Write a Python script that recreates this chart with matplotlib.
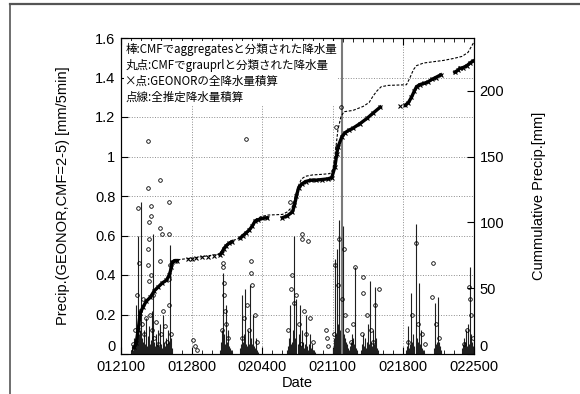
import numpy as np
import matplotlib
matplotlib.use("Agg")
import matplotlib.pyplot as plt
from matplotlib.lines import Line2D
from matplotlib.ticker import MultipleLocator

plt.rcParams['font.family'] = ['Liberation Sans', 'DejaVu Sans']

# x axis: days since 01/21 00:00 (labels are MMDDHH)
x_ticks = [0, 7, 14, 21, 28, 35]
x_labels = ["012100", "012800", "020400", "021100", "021800", "022500"]
y_ticks = [0, 0.2, 0.4, 0.6, 0.8, 1.0, 1.2, 1.4, 1.6]
y_labels = ["0", "0.2", "0.4", "0.6", "0.8", "1", "1.2", "1.4", "1.6"]
y2_ticks = [0, 50, 100, 150, 200]

# aggregates precip (bars), one list of 0.1-day samples per event
bar_starts = [1.0, 9.8, 11.8, 16.5, 21.0, 23.8, 28.3, 31.0, 33.8]
bar_heights = [
    [0.02, 0.04, 0.02, 0.08, 0.05, 0.25, 0.06, 0.60, 0.10, 0.12, 0.77, 0.08, 0.06, 0.12,
     0.05, 0.18, 0.04, 0.09, 0.14, 0.05, 0.07, 0.22, 0.61, 0.06, 0.04, 0.10, 0.05, 0.12,
     0.04, 0.15, 0.05, 0.03, 0.20, 0.06, 0.04, 0.08, 0.05, 0.12, 0.06, 0.55, 0.08, 0.03],
    [0.02, 0.06, 0.12, 0.41, 0.10, 0.05, 0.25, 0.06, 0.12, 0.04, 0.03, 0.02, 0.01],
    [0.03, 0.05, 0.30, 0.06, 0.10, 0.33, 0.05, 0.04, 0.12, 0.05, 0.35, 0.08, 0.05, 0.20,
     0.04, 0.03, 0.08, 0.02, 0.01],
    [0.02, 0.04, 0.08, 0.25, 0.05, 0.06, 0.12, 0.60, 0.08, 0.28, 0.05, 0.10, 0.25, 0.04,
     0.12, 0.06, 0.03, 0.05, 0.20, 0.04, 0.02, 0.05, 0.10, 0.03, 0.05, 0.02, 0.02, 0.01],
    [0.03, 0.08, 0.48, 0.10, 0.53, 0.15, 0.68, 0.12, 0.08, 1.90, 0.65, 0.10, 0.08, 0.06,
     0.05, 0.03, 0.02, 0.04, 0.06, 0.10, 0.08, 0.05, 0.44, 0.03, 0.02],
    [0.02, 0.05, 0.10, 0.04, 0.08, 0.03, 0.06, 0.15, 0.05, 0.37, 0.06, 0.04, 0.12, 0.05,
     0.34, 0.08, 0.03, 0.02],
    [0.02, 0.04, 0.14, 0.03, 0.05, 0.31, 0.06, 0.10, 0.04, 0.66, 0.08, 0.06, 0.36, 0.05,
     0.12, 0.03, 0.02, 0.01],
    [0.03, 0.26, 0.05, 0.06, 0.29, 0.06, 0.04, 0.02],
    [0.03, 0.05, 0.08, 0.06, 0.12, 0.04, 0.15, 0.05, 0.44, 0.10, 0.06, 0.04],
]

# graupel precip (circles)
circ_days = [1.7, 2.7, 3.0, 3.0, 2.8, 3.9, 4.1, 4.8, 4.8, 3.9, 2.7, 2.8, 2.7, 3.9, 1.8, 2.7,
             2.8, 3.0, 4.8, 4.8, 1.6, 1.9, 2.1, 2.3, 2.5, 2.9, 3.1, 3.3, 3.5, 3.7, 4.0, 4.2,
             4.4, 4.6, 1.4, 1.2, 3.2, 2.2, 4.9, 5.0,
             7.1, 7.3, 7.5,
             10.1, 10.1, 10.2, 10.2, 10.3, 10.4, 10.6, 10.0,
             12.4, 12.9, 12.9, 12.5, 13.0, 12.2, 12.7, 13.3, 13.5, 12.0,
             16.8, 17.9, 17.9, 18.5, 17.0, 16.9, 17.4, 17.2, 17.6, 18.1, 18.3, 18.7, 16.6,
             17.8, 19.0,
             20.3, 20.4, 20.5,
             21.8, 21.3, 21.4, 21.6, 22.1, 21.2, 21.5, 21.9, 22.2, 22.4, 22.8, 23.2, 23.0,
             21.1,
             24.0, 24.0, 25.6, 24.4, 24.8, 25.2, 25.0, 23.9,
             29.2, 30.9, 30.8, 28.9, 29.4, 29.8, 28.5, 30.1, 31.2, 31.5,
             34.5, 34.6, 34.7, 34.3, 34.9, 34.0]
circ_vals = [0.74, 0.84, 0.75, 0.70, 0.67, 0.64, 0.61, 0.77, 0.61, 0.47, 0.53, 0.58, 1.08,
             0.88, 0.46, 0.45, 0.37, 0.40, 0.38, 0.25, 0.30, 0.22, 0.15, 0.10, 0.18, 0.20,
             0.12, 0.08, 0.16, 0.05, 0.10, 0.22, 0.14, 0.06, 0.12, 0.05, 0.30, 0.28, 0.45,
             0.10,
             0.07, 0.04, 0.02,
             0.46, 0.44, 0.36, 0.30, 0.22, 0.15, 0.08, 0.12,
             1.09, 0.47, 0.41, 0.25, 0.35, 0.18, 0.12, 0.20, 0.06, 0.08,
             0.77, 0.61, 0.58, 0.57, 0.40, 0.33, 0.30, 0.26, 0.15, 0.22, 0.10, 0.18, 0.12,
             0.05, 0.06,
             0.12, 0.08, 0.04,
             1.25, 1.15, 1.05, 0.58, 0.53, 0.45, 0.35, 0.28, 0.20, 0.12, 0.06, 0.44, 0.15,
             0.10,
             0.39, 0.31, 0.33, 0.20, 0.12, 0.25, 0.06, 0.10,
             0.56, 0.46, 0.29, 0.20, 0.15, 0.10, 0.06, 0.05, 0.15, 0.08,
             0.34, 0.28, 0.20, 0.12, 0.08, 0.05]

# GEONOR cumulative precip [mm] (nan = gap in record)
geo_days = [1.3, 1.5, 1.7, 1.9, 2.2, 2.5, 2.9, 3.3, 3.7, 4.1, 4.5, 4.8, 5.0, 5.1, 5.35, 5.55,
            np.nan, 6.6, np.nan, 7.0, np.nan, 7.4, np.nan, 8.0, np.nan, 8.6, np.nan, 9.2,
            np.nan, 9.8, 10.0, 10.2, 10.4, 10.7, 11.0,
            np.nan, 11.8, 12.1, 12.4, 12.7, 13.0, 13.3, 13.6, 14.0, 14.5,
            np.nan, 16.0, 16.5, 17.0, 17.2, 17.4, 17.6, 17.9, 18.3, 18.8, 19.3, 19.9, 20.5,
            20.9, 21.2, 21.4, 21.5, 21.9, 22.2, 22.6, 23.0, 23.7, 24.4, 25.0, 25.7,
            np.nan, 27.7, np.nan, 28.2, 28.5, 28.8, 29.1, 29.3, 29.6, 30.0, 30.4, 30.8,
            31.2, 31.7,
            np.nan, 33.1, 33.4, 33.6, np.nan, 33.9, 34.3, 34.6, 34.9]
geo_vals = [5, 8, 18, 31, 36, 40, 43, 48, 51, 54, 56, 60, 66, 70, 71, 71,
            np.nan, 72, np.nan, 72.5, np.nan, 73, np.nan, 73.5, np.nan, 74, np.nan, 74.5,
            np.nan, 75.5, 77, 80, 82, 84, 85.3,
            np.nan, 88, 90, 92, 94, 97, 101, 102, 103, 103.5,
            np.nan, 103.5, 105, 108, 113, 120, 126, 129, 131, 132, 132, 132.5, 133,
            134, 142, 152, 157, 165, 168, 170, 171.5, 175, 179, 183, 187.5,
            np.nan, 188, np.nan, 189, 191, 195, 200, 203, 204.5, 205.5, 206.5, 208.5,
            210, 212,
            np.nan, 214, 215.5, 217, np.nan, 217.5, 219, 221, 222.5]

# estimated total cumulative precip [mm]
tot_days = [1.1, 1.3, 1.5, 1.7, 1.9, 2.2, 2.6, 2.9, 3.3, 3.7, 4.1, 4.5, 4.8, 5.0, 5.1, 5.5,
            7.2, 9.0, 9.8, 10.2, 10.6, 11.0, 11.8, 12.2, 12.6, 13.0, 13.3, 13.8, 14.5, 16.0,
            16.5, 17.0, 17.3, 17.6, 17.9, 18.3, 19.0, 20.0, 20.7, 21.0, 21.2, 21.4, 21.5,
            21.8, 22.1, 23.0, 24.0, 24.6, 25.0, 25.4, 25.8, 26.5, 28.3, 28.6, 29.0, 29.3,
            30.0, 31.0, 32.0, 33.0, 33.8, 34.4, 34.7, 35.0]
tot_vals = [2, 5, 10, 20, 31, 36, 41, 44, 48, 51, 54, 57, 62, 67, 70, 71.5,
            73, 75, 76, 81, 84.5, 86, 88, 91, 94, 98, 102, 104, 105.5, 106,
            108, 112, 120, 128, 133, 135, 136, 136.5, 137, 140, 150, 163, 170,
            180, 184, 185, 188, 191, 196, 200, 203, 204, 204.5, 209, 216, 219,
            221, 222, 223, 224.5, 226, 229, 233, 237]

bar_x = np.concatenate([s + 0.1 * np.arange(len(h)) for s, h in zip(bar_starts, bar_heights)])
bar_y = np.concatenate([np.array(h) for h in bar_heights])

fig = plt.figure(figsize=(5.8, 3.94), dpi=100)
ax = fig.add_axes([121 / 580, 1 - 354 / 394, 353 / 580, 316 / 394])

ymax = 1.6
inside = bar_y <= ymax
ax.vlines(bar_x[inside], 0, bar_y[inside], color='#1f1f1f', lw=0.8)
# off-scale impulses are clipped at the frame (drawn lighter, as in the original)
ax.vlines(bar_x[~inside], 0, bar_y[~inside], color='#7a7a7a', lw=1.5)
ax.plot(circ_days, circ_vals, 'o', ms=2.6, mfc='none', mec='k', mew=0.6)

ax.set_xlim(0, 35)
ax.set_ylim(0, ymax)
ax.set_xticks(x_ticks)
ax.set_xticklabels(x_labels)
ax.xaxis.set_minor_locator(MultipleLocator(1))
ax.set_yticks(y_ticks)
ax.set_yticklabels(y_labels)
ax.tick_params(direction='in', which='both', top=True, labelsize=10.5, pad=4)
ax.tick_params(which='major', length=5)
ax.tick_params(which='minor', length=3)
ax.grid(True, which='major', ls=':', color='#8c8c8c', lw=0.7)
ax.set_xlabel("Date", fontsize=10.5, labelpad=2)
ax.set_ylabel("Precip.(GEONOR,CMF=2-5) [mm/5min]", fontsize=10.5, labelpad=18)
ax.yaxis.get_major_ticks()[0].label1.set_verticalalignment('bottom')

ax2 = ax.twinx()
ax2.plot(geo_days, geo_vals, '-', color='k', lw=2.4)
ax2.plot(geo_days, geo_vals, 'x', color='k', ms=3.2, mew=0.8)
ax2.plot(tot_days, tot_vals, color='k', lw=0.8, ls=(0, (2.5, 1.5)))
ax2.set_ylim(0, 240)
ax2.set_yticks(y2_ticks)
ax2.tick_params(direction='in', length=5, labelsize=10.5, pad=4)
ax2.set_ylabel("Cummulative Precip.[mm]", fontsize=10.5, labelpad=20)
ax2.yaxis.get_major_ticks()[0].label2.set_verticalalignment('bottom')

ax2.text(0.012, 0.985,
         "棒:CMFでaggregatesと分類された降水量\n丸点:CMFでgrauprlと分類された降水量\n"
         "×点:GEONORの全降水量積算\n点線:全推定降水量積算",
         transform=ax2.transAxes, va='top', ha='left', fontsize=8.3,
         family=['Noto Sans CJK JP', 'DejaVu Sans'], linespacing=1.3,
         bbox=dict(fc='white', ec='none', pad=1), zorder=10)

# outer frame remnants
fig.add_artist(Line2D([10 / 580, 1], [1 - 4 / 394, 1 - 4 / 394], color='#555555', lw=1.6))
fig.add_artist(Line2D([10 / 580, 10 / 580], [0, 1 - 4 / 394], color='#555555', lw=1.2))

fig.savefig("out.png", dpi=100)
